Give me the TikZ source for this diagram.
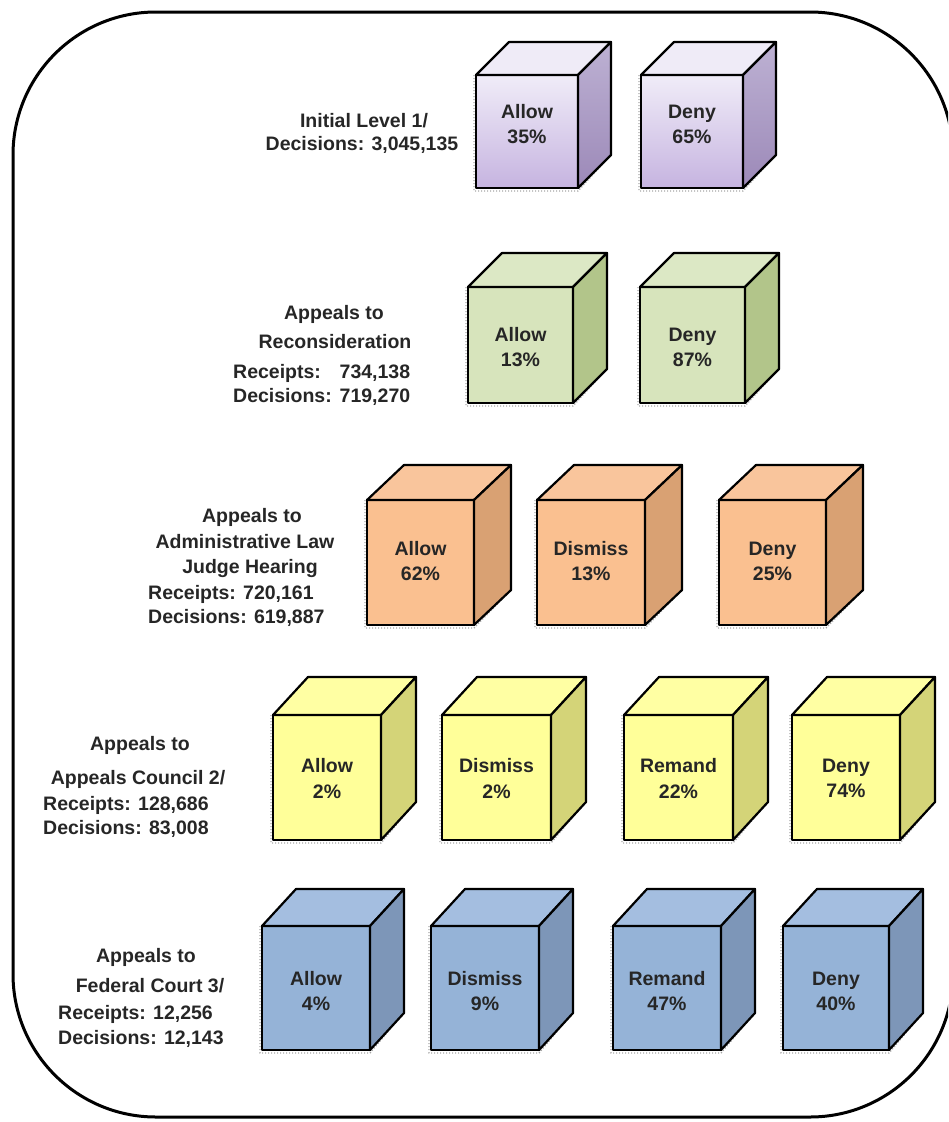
\documentclass[tikz,border=0pt]{standalone}
\usepackage{fontspec}
\setmainfont{Liberation Sans}
\definecolor{txt}{HTML}{262626}
\definecolor{puF1}{HTML}{F0ECF8}\definecolor{puF2}{HTML}{C6B4E0}
\definecolor{puS1}{HTML}{BDB1D3}\definecolor{puS2}{HTML}{9C89B8}
\definecolor{puT}{HTML}{EFEBF7}
\definecolor{grF}{HTML}{D7E4BC}\definecolor{grS}{HTML}{B2C58A}\definecolor{grT}{HTML}{DCE8C5}
\definecolor{orF}{HTML}{FAC090}\definecolor{orS}{HTML}{D9A173}\definecolor{orT}{HTML}{F9C59C}
\definecolor{yeF}{HTML}{FFFF99}\definecolor{yeS}{HTML}{D4D478}\definecolor{yeT}{HTML}{FFFFA3}
\definecolor{blF}{HTML}{95B3D7}\definecolor{blS}{HTML}{7D96B8}\definecolor{blT}{HTML}{A4BEE0}
\tikzset{
  cubeline/.style={draw=black, line width=2.2pt, line join=round},
  shadowline/.style={draw=black!35, line width=1.3pt, dash pattern=on 1.2pt off 1.8pt},
  facebox/.style={cubeline, inner sep=0pt, outer sep=0pt, anchor=north west,
     font=\fontsize{19.5}{25}\selectfont\bfseries, text=txt, align=center},
  sidelabel/.style={font=\fontsize{19.5}{25}\selectfont\bfseries, text=txt, align=center, inner sep=0pt},
  leftlabel/.style={sidelabel, anchor=base west},
  midlabel/.style={sidelabel, anchor=base},
  frame/.style={draw=black, line width=3pt, rounded corners=143pt},
  pu front/.style={top color=puF1, bottom color=puF2},
  pu side/.style={top color=puS1, bottom color=puS2},
  pu top/.style={fill=puT}, pu text/.style={yshift=7pt},
  gr front/.style={fill=grF}, gr side/.style={fill=grS}, gr top/.style={fill=grT}, gr text/.style={yshift=-2pt},
  or front/.style={fill=orF}, or side/.style={fill=orS}, or top/.style={fill=orT}, or text/.style={yshift=1pt},
  ye front/.style={fill=yeF}, ye side/.style={fill=yeS}, ye top/.style={fill=yeT}, ye text/.style={yshift=-1pt},
  bl front/.style={fill=blF}, bl side/.style={fill=blS}, bl top/.style={fill=blT}, bl text/.style={yshift=-3pt}
}
% \mycube{name}{x}{y}{w}{h}{dx}{dy}{row}{text}
\newcommand{\mycube}[9]{%
  \draw[shadowline] ([xshift=-2pt]#1@nw) -- ([xshift=-2pt,yshift=-3pt]#1@sw) -- ([yshift=-3pt]#1@se) -- ([xshift=#6pt-3pt,yshift=#7pt-3pt]#1@se);
  \node[facebox, minimum width=#4pt, minimum height=#5pt, #8 front] (#1) at (#2,#3) {};
  \filldraw[cubeline, #8 top] (#1.north west) -- ++(#6pt,#7pt) -- ++(#4pt,0pt) -- (#1.north east) -- cycle;
  \filldraw[cubeline, #8 side] (#1.north east) -- ++(#6pt,#7pt) -- ++(0pt,-#5pt) -- (#1.south east) -- cycle;
  \node[facebox, anchor=center, draw=none, #8 text] (#1t) at (#1.center) {#9};
}
\newcommand{\shadowpts}[5]{%
  \coordinate (#1@nw) at (#2,#3);
  \coordinate (#1@sw) at (#2,#3+#5);
  \coordinate (#1@se) at (#2+#4,#3+#5);
}
\newcommand{\cube}[9]{\shadowpts{#1}{#2}{#3}{#4}{#5}\mycube{#1}{#2}{#3}{#4}{#5}{#6}{#7}{#8}{#9}}
\begin{document}
\begin{tikzpicture}[x=1pt,y=-1pt]
\useasboundingbox (0,0) rectangle (948,1122);
\begin{scope}
\clip (0,0) rectangle (948,1122);
\draw[frame] (13,12) rectangle (953,1117);
\end{scope}

% Row 1: purple
\node[midlabel] (l1a) at (364,127) {Initial Level 1/};
\node[midlabel] (l1b) at (362,150) {Decisions: 3,045,135};
\cube{p1}{476}{75}{102}{113}{33}{33}{pu}{Allow\\35\%}
\cube{p2}{641}{75}{102}{113}{33}{33}{pu}{Deny\\65\%}

% Row 2: green
\node[midlabel] (l2a) at (334,319) {Appeals to};
\node[midlabel] (l2b) at (335,348) {Reconsideration};
\node[leftlabel] (l2c) at (233,378) {\hbox to 177pt{Receipts:\hfil 734,138}};
\node[leftlabel] (l2d) at (233,402) {\hbox to 177pt{Decisions:\hfil 719,270}};
\cube{g1}{468}{287}{105}{116}{34}{34}{gr}{Allow\\13\%}
\cube{g2}{640}{287}{105}{116}{34}{34}{gr}{Deny\\87\%}

% Row 3: orange
\node[midlabel] (l3a) at (252,522) {Appeals to};
\node[midlabel] (l3b) at (245,548) {Administrative Law};
\node[midlabel] (l3c) at (250,573) {Judge Hearing};
\node[leftlabel] (l3d) at (148,599) {Receipts: 720,161};
\node[leftlabel] (l3e) at (148,623) {Decisions: 619,887};
\cube{o1}{367}{500}{107}{125}{37}{35}{or}{Allow\\62\%}
\cube{o2}{537}{500}{108}{125}{37}{35}{or}{Dismiss\\13\%}
\cube{o3}{719}{500}{107}{125}{37}{35}{or}{Deny\\25\%}

% Row 4: yellow
\node[midlabel] (l4a) at (140,750) {Appeals to};
\node[midlabel] (l4b) at (138,784) {Appeals Council 2/};
\node[leftlabel] (l4c) at (43,810) {Receipts: 128,686};
\node[leftlabel] (l4d) at (43,834) {Decisions: 83,008};
\cube{y1}{273}{715}{108}{125}{35}{38}{ye}{Allow\\2\%}
\cube{y2}{442}{715}{109}{125}{35}{38}{ye}{Dismiss\\2\%}
\cube{y3}{624}{715}{109}{125}{35}{38}{ye}{Remand\\22\%}
\cube{y4}{792}{715}{108}{125}{35}{38}{ye}{Deny\\74\%}

% Row 5: blue
\node[midlabel] (l5a) at (146,962) {Appeals to};
\node[midlabel] (l5b) at (150,992) {Federal Court 3/};
\node[leftlabel] (l5c) at (58,1019) {Receipts: 12,256};
\node[leftlabel] (l5d) at (58,1044) {Decisions: 12,143};
\cube{b1}{262}{926}{108}{124}{34}{37}{bl}{Allow\\4\%}
\cube{b2}{431}{926}{108}{124}{34}{37}{bl}{Dismiss\\9\%}
\cube{b3}{613}{926}{108}{124}{34}{37}{bl}{Remand\\47\%}
\cube{b4}{783}{926}{106}{124}{34}{37}{bl}{Deny\\40\%}
\end{tikzpicture}
\end{document}
